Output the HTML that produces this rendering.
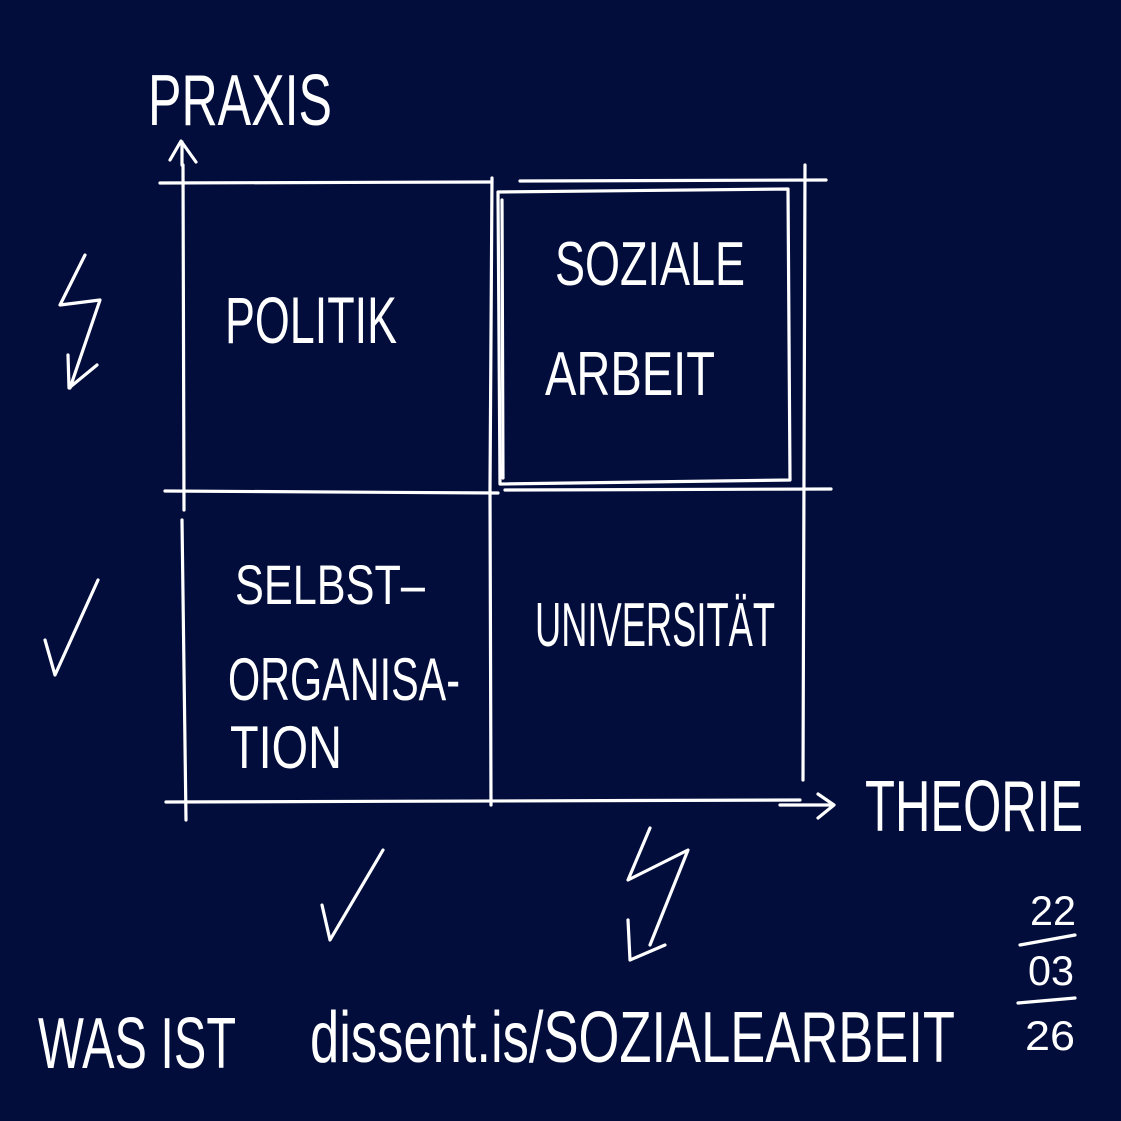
<!DOCTYPE html>
<html><head><meta charset="utf-8"><style>
html,body{margin:0;padding:0;background:#020d3c;}
svg{display:block}
text{font-family:"Liberation Sans",sans-serif;fill:#fff;}
</style></head><body>
<svg width="1121" height="1121" viewBox="0 0 1121 1121" xmlns="http://www.w3.org/2000/svg">
<rect width="1121" height="1121" fill="#020d3c"/>
<g stroke="#fff" stroke-width="3.2" fill="none" stroke-linecap="round" stroke-linejoin="round">
<!-- horizontal lines -->
<path d="M160 183 L490 182 M520 181 L826 180"/>
<path d="M165 491 L498 493 M505 490 L831 489"/>
<path d="M166 802 L800 800"/>
<!-- vertical lines -->
<path d="M183 165 L184 510 M182 520 L186 820"/>
<path d="M492 178 L490 490 L491 805"/>
<path d="M805 165 L803 780"/>
<!-- inner box -->
<path d="M498 192 L788 189 L790 480 L500 484 Z"/>
<path d="M502 200 L503 478"/>
<!-- axis arrows -->
<path d="M182 165 L182 142 M170 160 L181 141 L196 162"/>
<path d="M780 805 L832 805 M818 794 L834 805 L818 818"/>
<!-- lightning left -->
<path d="M85 255 L60 305 L100 300 L70 388 M68 355 L69 388 L97 365"/>
<!-- lightning bottom -->
<path d="M650 828 L628 880 L688 850 L650 945 M628 920 L630 960 L665 945"/>
<!-- checks -->
<path d="M45 640 L55 675 L98 580"/>
<path d="M322 905 L330 940 L383 850"/>
<!-- date slashes -->
<path d="M1020 945 L1075 935 M1018 1003 L1075 998"/>
</g>
<text x="148" y="125" font-size="72" textLength="184" lengthAdjust="spacingAndGlyphs">PRAXIS</text>
<text x="225" y="343" font-size="66" textLength="172" lengthAdjust="spacingAndGlyphs">POLITIK</text>
<text x="555" y="285" font-size="62" textLength="190" lengthAdjust="spacingAndGlyphs">SOZIALE</text>
<text x="545" y="395" font-size="62" textLength="170" lengthAdjust="spacingAndGlyphs">ARBEIT</text>
<text x="235" y="604" font-size="56" textLength="190" lengthAdjust="spacingAndGlyphs">SELBST–</text>
<text x="228" y="700" font-size="60" textLength="232" lengthAdjust="spacingAndGlyphs">ORGANISA-</text>
<text x="230" y="768" font-size="60" textLength="112" lengthAdjust="spacingAndGlyphs">TION</text>
<text x="535" y="646" font-size="62" textLength="240" lengthAdjust="spacingAndGlyphs">UNIVERSITÄT</text>
<text x="865" y="831" font-size="72" textLength="218" lengthAdjust="spacingAndGlyphs">THEORIE</text>
<text x="38" y="1068" font-size="72" textLength="198" lengthAdjust="spacingAndGlyphs">WAS IST</text>
<text x="310" y="1062" font-size="72" textLength="645" lengthAdjust="spacingAndGlyphs">dissent.is/SOZIALEARBEIT</text>
<text x="1030" y="925" font-size="42" textLength="46" lengthAdjust="spacingAndGlyphs">22</text>
<text x="1028" y="985" font-size="42" textLength="46" lengthAdjust="spacingAndGlyphs">03</text>
<text x="1025" y="1050" font-size="42" textLength="50" lengthAdjust="spacingAndGlyphs">26</text>
</svg>
</body></html>
